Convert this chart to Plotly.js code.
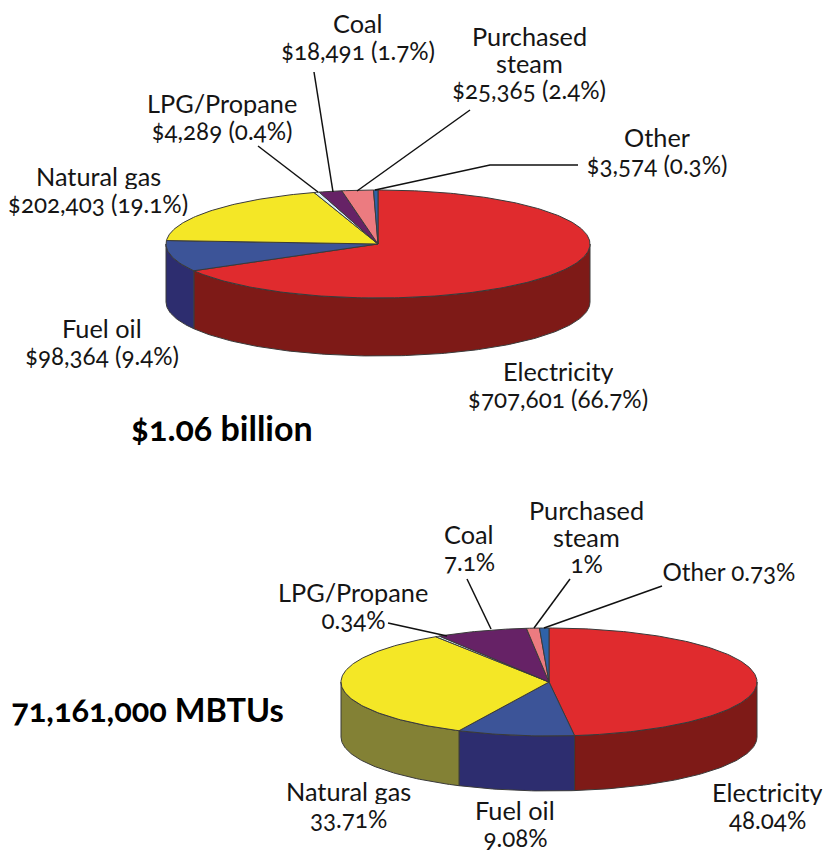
<!DOCTYPE html>
<html><head><meta charset="utf-8">
<script src="https://cdn.plot.ly/plotly-3.0.1.min.js"></script>
<style>html,body{margin:0;padding:0;background:#fff}
#c{width:825px;height:850px}
#c text{font-feature-settings:"onum" 1;font-variant-numeric:oldstyle-nums}</style></head>
<body><div id="c"></div>
<script>
const categories = ["Electricity","Fuel oil","Natural gas","LPG/Propane","Coal","Purchased steam","Other"];
const costValues = [707601,98364,202403,4289,18491,25365,3574];
const energyValues = [48.04,9.08,33.71,0.34,7.1,1,0.73];
const costLabels = ["Electricity<br>$707,601 (66.7%)","Fuel oil<br>$98,364 (9.4%)","Natural gas<br>$202,403 (19.1%)","LPG/Propane<br>$4,289 (0.4%)","Coal<br>$18,491 (1.7%)","Purchased<br>steam<br>$25,365 (2.4%)","Other<br>$3,574 (0.3%)"];
const energyLabels = ["Electricity<br>48.04%","Fuel oil<br>9.08%","Natural gas<br>33.71%","LPG/Propane<br>0.34%","Coal<br>7.1%","Purchased<br>steam<br>1%","Other 0.73%"];
const costTotal = "$1.06 billion";
const energyTotal = "71,161,000 MBTUs";

const topColors = ["#e02b2e","#3c5498","#f4e726","#d9eef4","#662266","#ec7b80","#2f62a8"];
const sideColors = ["#7e1a17","#2d2d6f","#838135","#8a9aa0","#3a123a","#8a4648","#1c3a64"];
const FONT = "Lato, 'Open Sans', sans-serif";

const traces = [];
function ang2pt(g, a){ const r = a*Math.PI/180;
  return [g.cx + g.rx*Math.sin(r), g.cy - g.ry*Math.cos(r)]; }
function addPoly(xs, ys, fill, name){
  traces.push({type:"scatter",mode:"lines",x:xs,y:ys,fill:"toself",fillcolor:fill,
    line:{color:"#3a3a3a",width:1},hoverinfo:"text",text:name,showlegend:false});
}
function drawPie(values, g){
  const total = values.reduce((a,b)=>a+b,0);
  let start = 0; const spans = [];
  values.forEach(v=>{const e = start + v/total*360; spans.push([start,e]); start = e;});
  spans.forEach((s,i)=>{
    const a0 = Math.max(s[0],90), a1 = Math.min(s[1],270);
    if(a1<=a0) return;
    const n=Math.max(2,Math.ceil(a1-a0));
    const xs=[],ys=[];
    for(let k=0;k<=n;k++){const p=ang2pt(g,a0+(a1-a0)*k/n);xs.push(p[0]);ys.push(p[1]);}
    for(let k=n;k>=0;k--){const p=ang2pt(g,a0+(a1-a0)*k/n);xs.push(p[0]);ys.push(p[1]+g.depth);}
    xs.push(xs[0]);ys.push(ys[0]);
    addPoly(xs,ys,sideColors[i],categories[i]);
  });
  spans.forEach((s,i)=>{
    const xs=[g.cx],ys=[g.cy];
    const n=Math.max(2,Math.ceil(s[1]-s[0]));
    for(let k=0;k<=n;k++){const p=ang2pt(g,s[0]+(s[1]-s[0])*k/n);xs.push(p[0]);ys.push(p[1]);}
    xs.push(g.cx);ys.push(g.cy);
    addPoly(xs,ys,topColors[i],categories[i]);
  });
}
drawPie(costValues,{cx:378,cy:244,rx:212,ry:54,depth:58});
drawPie(energyValues,{cx:549,cy:682,rx:208,ry:54,depth:55});

const costPos = [[558,371],[102,328],[98,176],[222,103],[358,23],[529,36],[657,137]];
const energyPos = [[767,792],[515,810],[348,791],[353,592],[469,534],[586,510],[729,571]];
const LINE = 26.7;
const annotations = [];
function addLabels(labels,pos){labels.forEach((t,i)=>t.split("<br>").forEach((line,k)=>annotations.push({xref:"x",yref:"y",x:pos[i][0],y:pos[i][1]+k*LINE,text:line,showarrow:false,
  height:26,borderpad:0,
  xanchor:"center",yanchor:"middle",align:"center",font:{family:FONT,size:/\d/.test(line)?24.2:25.3,color:"#151515"}})));}
addLabels(costLabels,costPos);
addLabels(energyLabels,energyPos);
annotations.push({xref:"x",yref:"y",x:221,y:427,text:"<b>"+costTotal+"</b>",showarrow:false,font:{family:FONT,size:34,color:"#000"}});
annotations.push({xref:"x",yref:"y",x:147,y:709,text:"<b>"+energyTotal+"</b>",showarrow:false,font:{family:FONT,size:32.5,color:"#000"}});

const leaders = ["M314,72L333,192","M258,146L318,192","M470,110L357,191","M375,190L490,165L578,165",
  "M467,579L491,629","M570,579L534,628","M662,586L544,628","M388,623L447,636"];
const shapes = leaders.map(p=>({type:"path",xref:"x",yref:"y",path:p,line:{color:"#111",width:1.5}}));

Plotly.newPlot("c",traces,{
  width:825,height:850,margin:{l:0,r:0,t:0,b:0},paper_bgcolor:"#fff",plot_bgcolor:"#fff",showlegend:false,
  xaxis:{range:[0,825],visible:false,fixedrange:true},
  yaxis:{range:[850,0],visible:false,fixedrange:true},
  annotations,shapes
},{displayModeBar:false,staticPlot:true});
</script></body></html>
